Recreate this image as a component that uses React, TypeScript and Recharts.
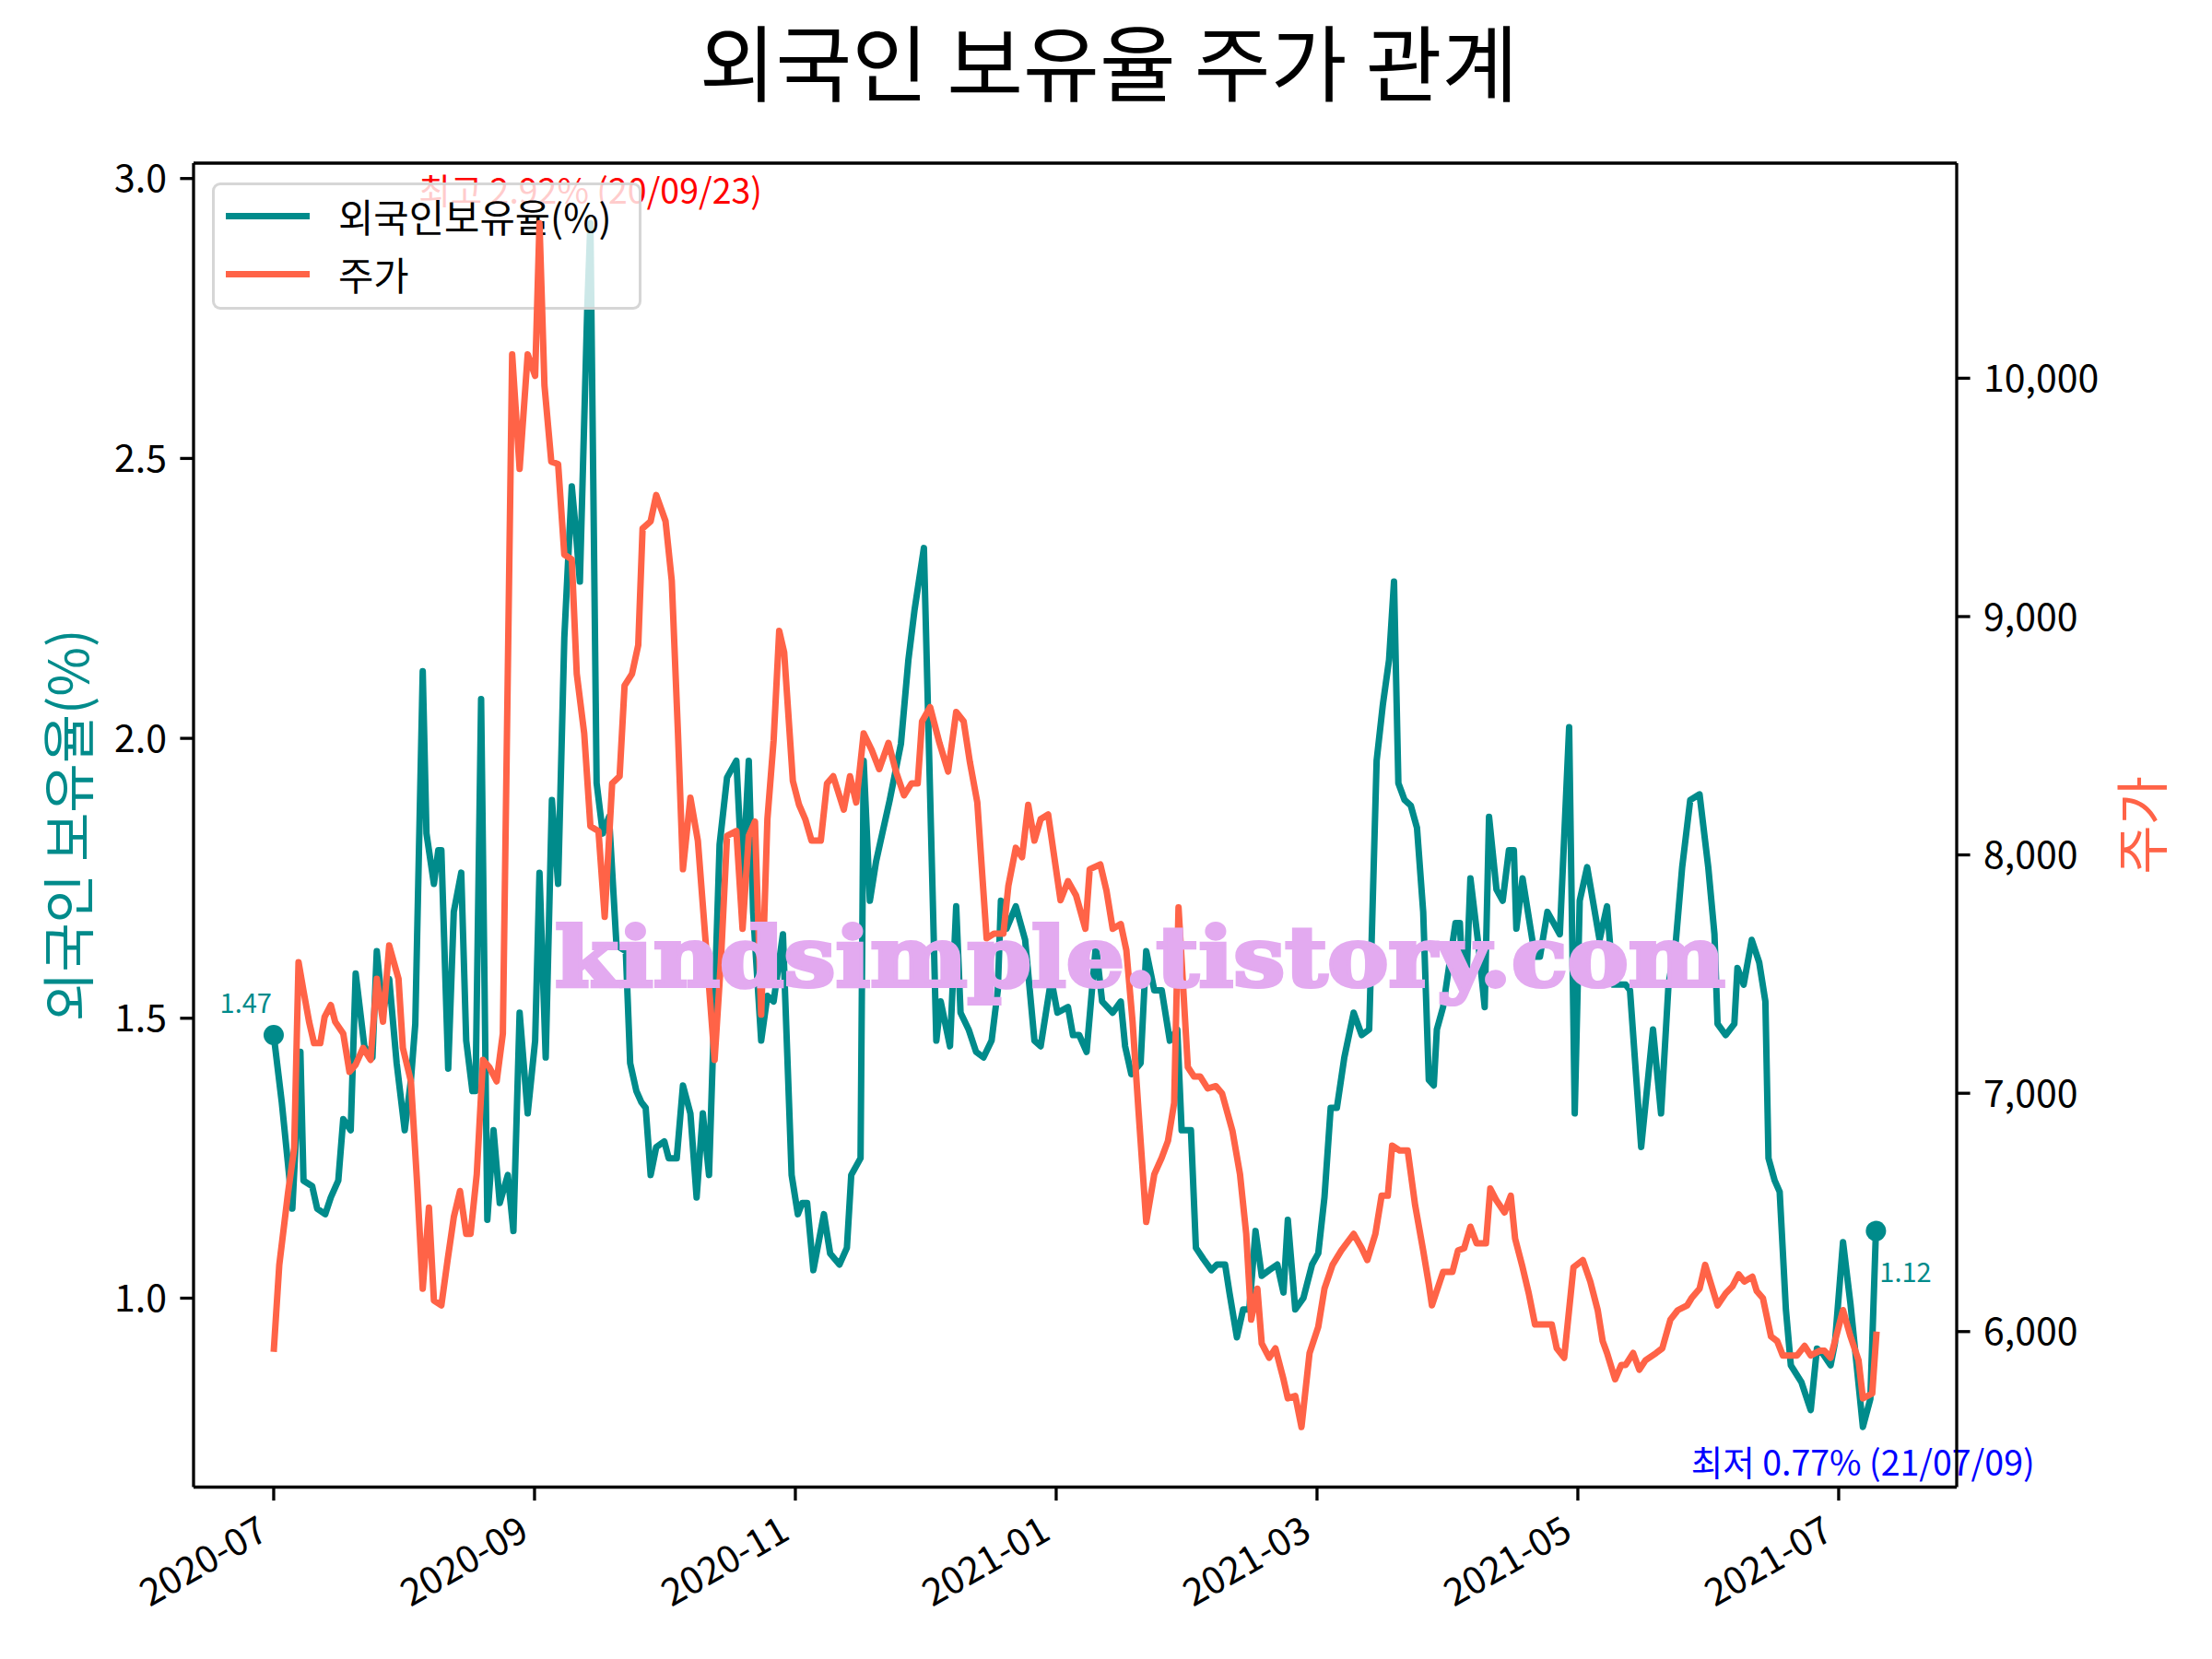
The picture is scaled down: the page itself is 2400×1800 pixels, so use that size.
import React from "react";
import {
  LineChart,
  Line,
  XAxis,
  YAxis,
  ReferenceLine,
  ReferenceDot,
  Label,
  Legend,
} from "recharts";

// 외국인 보유율 vs 주가 — two stacked charts so the legend sits between
// the ownership line (below) and the price line (above), like the original.

// trading-day position (0 = 2020-07-01) → foreign ownership (%)
const ratePos = [
  0, 1.3, 2.3, 3.0, 4.3, 4.8, 6.2, 7.0, 8.3, 9.2,
  10.4, 11.2, 12.4, 13.2, 14.6, 15.9, 16.6, 17.6, 18.6, 19.8,
  21.1, 22.1, 22.8, 24.0, 24.6, 25.8, 26.5, 27.0, 28.1, 29.0,
  30.2, 31.0, 32.0, 32.5, 33.4, 34.4, 35.4, 36.4, 37.7, 38.6,
  39.6, 40.9, 42.1, 42.8, 43.8, 44.8, 45.8, 46.8, 48.0, 48.5,
  49.3, 50.5, 51.0, 52.0, 53.0, 54.0, 55.2, 56.7, 57.4, 58.4,
  59.2, 59.9, 60.7, 61.6, 62.9, 63.6, 64.9, 65.9, 67.1, 68.1,
  69.1, 70.1, 71.8, 73.0, 74.5, 75.5, 76.5, 77.2, 78.5, 79.5,
  80.5, 82.0, 83.4, 84.4, 85.1, 85.9, 86.9, 88.6, 89.6, 91.1,
  92.3, 93.0, 94.5, 95.0, 96.0, 97.0, 98.0, 99.2, 101.0, 102.2,
  103.2, 104.7, 106.7, 107.4, 108.9, 109.9, 110.6, 111.9, 113.1, 114.3,
  115.6, 116.6, 117.1, 118.0, 119.5, 121.0, 122.5, 123.5, 125.2, 126.2,
  127.9, 128.7, 129.7, 130.9, 131.6, 132.4, 133.4, 135.1, 136.4, 137.1,
  138.1, 139.6, 140.5, 141.8, 143.0, 144.3, 145.5, 146.2, 147.7, 148.5,
  149.7, 151.0, 151.9, 153.2, 153.9, 155.1, 156.1, 157.1, 158.1, 159.1,
  160.3, 161.6, 162.6, 163.3, 164.5, 165.8, 167.2, 168.2, 169.2, 170.2,
  171.2, 172.4, 173.9, 175.2, 176.4, 177.6, 178.6, 179.6, 180.4, 181.1,
  182.1, 183.1, 184.1, 185.1, 186.0, 186.8, 187.3, 188.3, 190.3, 191.0,
  191.5, 192.0, 192.7, 194.0, 195.0, 195.7, 196.9, 197.9, 198.9, 199.7,
  200.1, 201.1, 203.1, 203.9, 205.1, 206.1, 207.1, 208.6, 209.5, 210.3,
  211.5, 213.5, 214.7, 215.7, 217.7, 218.4, 220.2, 222.1, 223.4, 224.6,
  225.8, 226.8, 228.1, 229.6, 231.0, 232.0, 232.5, 233.8, 235.2, 235.7,
  236.7, 238.0, 239.2, 240.2, 240.7, 241.7, 242.5, 243.5, 244.3, 246.0,
  247.5, 248.5, 249.5, 250.7, 251.4, 252.7, 253.9, 254.9, 255.9, 257.1,
  258.0,
];
const foreignRate = [
  1.47, 1.35, 1.24, 1.16, 1.44, 1.21, 1.2, 1.16, 1.15, 1.18,
  1.21, 1.32, 1.3, 1.58, 1.45, 1.43, 1.62, 1.51, 1.57, 1.42,
  1.3, 1.39, 1.49, 2.12, 1.83, 1.74, 1.8, 1.8, 1.41, 1.69,
  1.76, 1.46, 1.37, 1.37, 2.07, 1.14, 1.3, 1.17, 1.22, 1.12,
  1.51, 1.33, 1.46, 1.76, 1.43, 1.89, 1.74, 2.18, 2.45, 2.39,
  2.28, 2.77, 2.92, 1.92, 1.83, 1.86, 1.63, 1.62, 1.42, 1.37,
  1.35, 1.34, 1.22, 1.27, 1.28, 1.25, 1.25, 1.38, 1.33, 1.18,
  1.33, 1.22, 1.81, 1.93, 1.96, 1.74, 1.96, 1.69, 1.46, 1.54,
  1.53, 1.65, 1.22, 1.15, 1.17, 1.17, 1.05, 1.15, 1.08, 1.06,
  1.09, 1.22, 1.25, 1.96, 1.71, 1.78, 1.83, 1.89, 1.99, 2.14,
  2.23, 2.34, 1.46, 1.53, 1.45, 1.7, 1.51, 1.48, 1.44, 1.43,
  1.46, 1.55, 1.71, 1.66, 1.7, 1.64, 1.46, 1.45, 1.57, 1.51,
  1.52, 1.47, 1.47, 1.44, 1.53, 1.63, 1.53, 1.51, 1.53, 1.45,
  1.4, 1.42, 1.62, 1.55, 1.55, 1.46, 1.48, 1.3, 1.3, 1.09,
  1.07, 1.05, 1.06, 1.06, 1.01, 0.93, 0.98, 0.98, 1.12, 1.04,
  1.05, 1.06, 1.01, 1.14, 0.98, 1.0, 1.06, 1.08, 1.18, 1.34,
  1.34, 1.43, 1.51, 1.47, 1.48, 1.96, 2.06, 2.14, 2.28, 1.92,
  1.89, 1.88, 1.84, 1.69, 1.39, 1.38, 1.48, 1.52, 1.67, 1.67,
  1.56, 1.55, 1.75, 1.63, 1.52, 1.86, 1.73, 1.71, 1.8, 1.8,
  1.66, 1.75, 1.61, 1.61, 1.69, 1.67, 1.65, 2.02, 1.33, 1.71,
  1.77, 1.64, 1.7, 1.56, 1.56, 1.55, 1.27, 1.48, 1.33, 1.56,
  1.64, 1.77, 1.89, 1.9, 1.77, 1.65, 1.49, 1.47, 1.49, 1.59,
  1.56, 1.64, 1.6, 1.53, 1.25, 1.21, 1.19, 0.98, 0.88, 0.85,
  0.8, 0.91, 0.9, 0.88, 0.92, 1.1, 0.99, 0.88, 0.77, 0.82,
  1.12,
];

// trading-day position → closing price (원)
const pricePos = [
  0, 0.9, 2.3, 3.3, 4.0, 4.8, 5.7, 6.5, 7.5, 8.2,
  9.2, 9.9, 11.2, 12.2, 13.2, 14.4, 15.6, 16.6, 17.6, 18.6,
  20.1, 20.8, 22.1, 23.1, 24.0, 25.0, 25.8, 27.0, 28.0, 29.0,
  30.0, 31.0, 31.7, 32.7, 33.7, 34.7, 35.9, 36.9, 38.4, 39.6,
  40.9, 42.1, 42.8, 43.6, 44.7, 45.8, 46.8, 48.0, 48.8, 50.0,
  51.0, 52.3, 53.3, 54.5, 55.7, 56.5, 57.7, 58.7, 59.4, 60.7,
  61.6, 63.1, 64.1, 65.1, 65.9, 67.1, 68.3, 69.6, 71.0, 72.0,
  73.0, 74.5, 75.5, 76.5, 77.5, 78.5, 79.5, 80.5, 81.4, 82.2,
  83.6, 84.6, 85.6, 86.6, 88.1, 89.1, 90.1, 91.8, 92.8, 93.8,
  95.0, 96.3, 97.5, 99.0, 100.2, 101.5, 102.7, 103.7, 104.4, 105.7,
  107.2, 108.6, 109.9, 111.1, 112.1, 113.3, 114.8, 116.0, 117.5, 118.3,
  119.5, 120.5, 121.5, 122.5, 123.5, 124.7, 126.7, 127.9, 129.2, 130.7,
  131.4, 133.1, 134.1, 135.1, 136.4, 137.3, 138.3, 139.3, 140.5, 141.8,
  143.0, 144.0, 145.0, 145.7, 147.2, 148.2, 149.2, 150.4, 151.7, 152.7,
  154.4, 155.6, 156.6, 157.4, 158.4, 159.1, 160.3, 161.3, 162.6, 163.3,
  164.5, 165.5, 166.8, 168.2, 169.2, 170.5, 171.9, 173.9, 175.2, 176.1,
  177.4, 178.4, 179.4, 180.1, 181.3, 182.6, 183.8, 185.1, 186.0, 186.5,
  188.3, 189.8, 190.7, 191.7, 192.7, 193.7, 195.2, 195.9, 196.9, 198.2,
  199.2, 199.9, 201.1, 202.1, 203.1, 204.6, 205.8, 206.6, 207.8, 209.3,
  210.8, 212.0, 213.2, 214.0, 214.7, 216.0, 217.0, 217.7, 218.9, 219.9,
  220.9, 222.6, 223.6, 224.9, 226.1, 227.6, 228.3, 229.6, 230.5, 232.5,
  233.8, 234.9, 235.9, 236.8, 238.1, 238.8, 239.8, 241.1, 242.1, 243.0,
  245.3, 246.5, 247.5, 249.0, 249.7, 250.7, 252.7, 253.9, 255.2, 255.9,
  257.4, 258.1,
];
const closePrice = [
  5915, 6280, 6580, 6770, 7550, 7430, 7300, 7210, 7210, 7320,
  7370, 7300, 7250, 7090, 7120, 7190, 7140, 7480, 7300, 7620,
  7480, 7190, 7050, 6620, 6180, 6520, 6130, 6110, 6300, 6480,
  6590, 6410, 6410, 6660, 7140, 7110, 7050, 7250, 10100, 9620,
  10100, 10010, 10650, 9970, 9650, 9640, 9260, 9240, 8760, 8510,
  8120, 8100, 7740, 8300, 8330, 8710, 8760, 8880, 9370, 9400,
  9510, 9400, 9150, 8510, 7940, 8240, 8060, 7620, 7140, 7550,
  8080, 8100, 7690, 8080, 8140, 7330, 8150, 8480, 8940, 8850,
  8310, 8210, 8150, 8060, 8060, 8300, 8330, 8190, 8330, 8220,
  8510, 8440, 8360, 8470, 8350, 8250, 8300, 8300, 8560, 8620,
  8470, 8350, 8600, 8560, 8390, 8220, 7650, 7670, 7670, 7870,
  8030, 7990, 8210, 8060, 8150, 8170, 7810, 7890, 7830, 7690,
  7940, 7960, 7850, 7690, 7710, 7600, 7300, 6910, 6460, 6660,
  6730, 6800, 6960, 7780, 7110, 7070, 7070, 7020, 7030, 7000,
  6840, 6660, 6410, 6050, 6180, 5950, 5890, 5930, 5800, 5720,
  5730, 5600, 5910, 6020, 6180, 6280, 6340, 6410, 6350, 6300,
  6410, 6570, 6570, 6780, 6760, 6760, 6530, 6340, 6200, 6110,
  6250, 6250, 6340, 6350, 6440, 6370, 6370, 6600, 6550, 6500,
  6570, 6390, 6270, 6160, 6030, 6030, 6030, 5930, 5890, 6270,
  6300, 6210, 6090, 5960, 5910, 5800, 5860, 5860, 5910, 5840,
  5880, 5910, 5930, 6050, 6090, 6110, 6140, 6180, 6280, 6110,
  6160, 6190, 6240, 6210, 6230, 6170, 6140, 5980, 5960, 5900,
  5900, 5940, 5900, 5920, 5920, 5890, 6090, 5980, 5880, 5720,
  5740, 6000,
];

const xTickPos = [0, 42, 84, 126, 168, 210, 252];
const xTickLabels = ["2020-07", "2020-09", "2020-11", "2021-01", "2021-03", "2021-05", "2021-07"];
const rateTicks = [1.0, 1.5, 2.0, 2.5, 3.0];
const priceTicks = [6000, 7000, 8000, 9000, 10000];
const peakDate = "20/09/23";
const lowDate = "21/07/09";

const TEAL = "#008B8B";
const TOMATO = "#FF6347";
const FONT = "'Noto Sans CJK KR', 'Noto Sans', sans-serif";
const W = 2400;
const H = 1800;
const SPINE = 3.3;
const LW = 7;

// matplotlib-style 5% margins
const pad = (lo: number, hi: number): [number, number] => {
  const d = (hi - lo) * 0.05;
  return [lo - d, hi + d];
};
const xDomain = pad(0, Math.max(ratePos[ratePos.length - 1], pricePos[pricePos.length - 1]));
const rateDomain = pad(Math.min(...foreignRate), Math.max(...foreignRate));
const priceDomain = pad(Math.min(...closePrice), Math.max(...closePrice));

const rateRows = ratePos.map((p, i) => ({ pos: p, rate: foreignRate[i] }));
const priceRows = pricePos.map((p, i) => ({ pos: p, price: closePrice[i] }));

const maxI = foreignRate.indexOf(Math.max(...foreignRate));
const minI = foreignRate.indexOf(Math.min(...foreignRate));
const lastI = foreignRate.length - 1;

const series = [
  { name: "외국인보유율(%)", color: TEAL },
  { name: "주가", color: TOMATO },
];

const tickStyle = { fontSize: 41, fill: "#000", fontFamily: FONT };
const lineStyle = { stroke: "#000", strokeWidth: SPINE };

const XTick = ({ x, y, payload }: any) => {
  const label = xTickLabels[xTickPos.indexOf(payload.value)];
  return (
    <g transform={`translate(${x - 4},${y + 26}) rotate(-30)`}>
      <text textAnchor="end" fontSize={41} fill="#000" fontFamily={FONT}>
        {label}
      </text>
    </g>
  );
};

const EndDot = ({ cx, cy, index }: any) =>
  index === 0 || index === lastI ? (
    <circle key={index} cx={cx} cy={cy} r={11} fill={TEAL} />
  ) : (
    <g key={index} />
  );

const EndLabel = ({ x, y, index }: any) => {
  if (index === 0)
    return (
      <text x={x - 2} y={y - 24} textAnchor="end" fontSize={29} fill={TEAL} fontFamily={FONT}>
        {foreignRate[0].toFixed(2)}
      </text>
    );
  if (index === lastI)
    return (
      <text x={x + 4} y={y + 55} textAnchor="start" fontSize={29} fill={TEAL} fontFamily={FONT}>
        {foreignRate[lastI].toFixed(2)}
      </text>
    );
  return null;
};

const renderLegend = () => (
  <div
    style={{
      width: "100%",
      height: "100%",
      boxSizing: "border-box",
      border: "3px solid rgba(204,204,204,0.8)",
      borderRadius: 9,
      background: "rgba(255,255,255,0.8)",
      position: "relative",
      fontFamily: FONT,
    }}
  >
    {series.map((s, i) => (
      <div
        key={s.name}
        style={{
          position: "absolute",
          left: 12,
          top: 33 + i * 63 - 30,
          height: 60,
          display: "flex",
          alignItems: "center",
        }}
      >
        <div style={{ width: 91, height: LW, background: s.color }} />
        <span style={{ marginLeft: 31, fontSize: 41.7, color: "#000", lineHeight: "60px" }}>
          {s.name}
        </span>
      </div>
    ))}
  </div>
);

export default function App() {
  return (
    <div style={{ position: "absolute", left: 0, top: 0, width: W, height: H, background: "#fff", fontFamily: FONT }}>
      {/* bottom layer: ownership line, axes, annotations, legend */}
      <div style={{ position: "absolute", left: 0, top: 0 }}>
        <LineChart width={W} height={H} data={rateRows} margin={{ top: 177, right: 277, bottom: 0, left: 0 }}>
          <XAxis
            dataKey="pos"
            type="number"
            domain={xDomain}
            ticks={xTickPos}
            interval={0}
            height={186.5}
            tick={<XTick />}
            tickSize={14.6}
            tickMargin={14.6}
            tickLine={lineStyle}
            axisLine={lineStyle}
          />
          <YAxis
            type="number"
            domain={rateDomain}
            ticks={rateTicks}
            width={210}
            tick={tickStyle}
            tickSize={14.6}
            tickMargin={14.4}
            tickLine={lineStyle}
            axisLine={lineStyle}
            tickFormatter={(v: number) => v.toFixed(1)}
          >
            <Label
              content={({ viewBox }: any) => {
                const cx = viewBox.x + 71;
                const cy = viewBox.y + viewBox.height / 2;
                return (
                  <text
                    x={cx}
                    y={cy}
                    transform={`rotate(-90, ${cx}, ${cy})`}
                    textAnchor="middle"
                    dominantBaseline="central"
                    fontSize={58}
                    fill={TEAL}
                    fontFamily={FONT}
                  >
                    외국인 보유율(%)
                  </text>
                );
              }}
            />
          </YAxis>
          <ReferenceLine y={rateDomain[1]} stroke="#000" strokeWidth={SPINE} />
          <Line
            type="linear"
            dataKey="rate"
            name={series[0].name}
            stroke={TEAL}
            strokeWidth={LW}
            strokeLinejoin="round"
            dot={<EndDot />}
            activeDot={false}
            label={<EndLabel />}
            isAnimationActive={false}
          />
          <ReferenceDot x={ratePos[maxI]} y={foreignRate[maxI]} r={0} fill="none" stroke="none">
            <Label
              content={({ viewBox }: any) => (
                <text
                  x={viewBox.x + viewBox.width / 2}
                  y={viewBox.y - 21}
                  textAnchor="middle"
                  fontSize={37.5}
                  fill="#FF0000"
                  fontFamily={FONT}
                >
                  {`최고 ${foreignRate[maxI].toFixed(2)}% (${peakDate})`}
                </text>
              )}
            />
          </ReferenceDot>
          <ReferenceDot x={ratePos[minI]} y={foreignRate[minI]} r={0} fill="none" stroke="none">
            <Label
              content={({ viewBox }: any) => (
                <text
                  x={viewBox.x + viewBox.width / 2}
                  y={viewBox.y + 53}
                  textAnchor="middle"
                  fontSize={37.5}
                  fill="#0000FF"
                  fontFamily={FONT}
                >
                  {`최저 ${foreignRate[minI].toFixed(2)}% (${lowDate})`}
                </text>
              )}
            />
          </ReferenceDot>
          <Legend
            content={renderLegend}
            layout="horizontal"
            verticalAlign="middle"
            align="center"
            wrapperStyle={{ position: "absolute", left: 230, top: 198, width: 466, height: 138 }}
          />
        </LineChart>
      </div>

      {/* upper layer: price line on the right axis */}
      <div style={{ position: "absolute", left: 0, top: 0 }}>
        <LineChart width={W} height={H} data={priceRows} margin={{ top: 177, right: 0, bottom: 186.5, left: 210 }}>
          <XAxis dataKey="pos" type="number" domain={xDomain} hide />
          <YAxis
            orientation="right"
            type="number"
            domain={priceDomain}
            ticks={priceTicks}
            width={277}
            tick={tickStyle}
            tickSize={14.6}
            tickMargin={14.4}
            tickLine={lineStyle}
            axisLine={lineStyle}
            tickFormatter={(v: number) => v.toLocaleString("en-US")}
          >
            <Label
              content={({ viewBox }: any) => {
                const cx = viewBox.x + 198;
                const cy = viewBox.y + viewBox.height / 2;
                return (
                  <text
                    x={cx}
                    y={cy}
                    transform={`rotate(-90, ${cx}, ${cy})`}
                    textAnchor="middle"
                    dominantBaseline="central"
                    fontSize={58}
                    fill={TOMATO}
                    fontFamily={FONT}
                  >
                    주가
                  </text>
                );
              }}
            />
          </YAxis>
          <Line
            type="linear"
            dataKey="price"
            name={series[1].name}
            stroke={TOMATO}
            strokeWidth={LW}
            strokeLinejoin="round"
            dot={false}
            activeDot={false}
            isAnimationActive={false}
          />
        </LineChart>
      </div>

      {/* title and watermark on top */}
      <svg width={W} height={H} style={{ position: "absolute", left: 0, top: 0, pointerEvents: "none" }}>
        <text x={1203} y={103} textAnchor="middle" fontSize={90} fill="#000" fontFamily={FONT}>
          외국인 보유율 주가 관계
        </text>
        <text
          x={602}
          y={1070}
          fontSize={90}
          fontWeight="bold"
          fontFamily="'DejaVu Serif', serif"
          fill="#E3AAF0"
          stroke="#E3AAF0"
          strokeWidth={4}
          textLength={1270}
          lengthAdjust="spacingAndGlyphs"
        >
          kindsimple.tistory.com
        </text>
      </svg>
    </div>
  );
}
